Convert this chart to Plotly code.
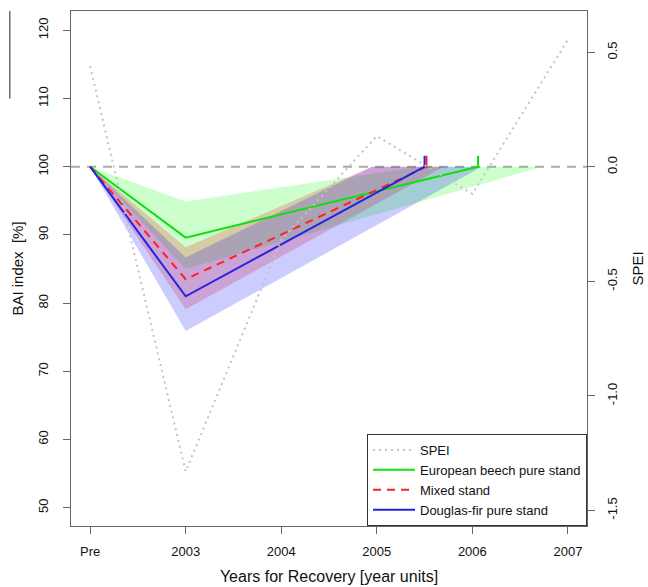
import plotly.graph_objects as go

# ---------------- data ----------------
x_labels = ["Pre", "2003", "2004", "2005", "2006", "2007"]
x_pos = [0, 1, 2, 3, 4, 5]

spei_values = [0.44, -1.33, -0.32, 0.135, -0.118, 0.555]

# BAI index: Pre value and 2003 (drought year) value, then recovery time (x units)
beech_mean = [100, 89.6]
beech_rec = 4.06
beech_upper = [100, 94.9]
beech_upper_rec = 3.45
beech_lower = [100, 85.0]
beech_lower_rec = 4.73

mixed_mean = [100, 83.5]
mixed_rec = 3.52
mixed_upper = [100, 88.2]
mixed_upper_rec = 2.95
mixed_lower = [100, 79.1]
mixed_lower_rec = 3.70

doug_mean = [100, 81.0]
doug_rec = 3.50
doug_upper = [100, 86.7]
doug_upper_rec = 2.95
doug_lower = [100, 75.9]
doug_lower_rec = 4.10

baseline = 100
y_ticks = [50, 60, 70, 80, 90, 100, 110, 120]
y2_ticks = [-1.5, -1.0, -0.5, 0.0, 0.5]
y2_ticklabels = ["-1.5", "-1.0", "-0.5", "0.0", "0.5"]

# ---------------- styles ----------------
FONT = "Liberation Sans, Arial, sans-serif"
AX = "#666666"
TICK_H = 1.6
GREEN = "#11DD11"
RED = "#FF2020"
BLUE = "#2424E0"

fig = go.Figure()

# SPEI (secondary axis)
fig.add_trace(go.Scatter(
    x=x_pos, y=spei_values, yaxis="y2", mode="lines", name="SPEI",
    line=dict(color="#C4C4C4", width=2, dash="2px,4px"), showlegend=True))


def band(up, up_rec, lo, lo_rec, color):
    xs = [x_pos[0], x_pos[1], up_rec, lo_rec, x_pos[1], x_pos[0]]
    ys = [up[0], up[1], baseline, baseline, lo[1], lo[0]]
    fig.add_trace(go.Scatter(x=xs, y=ys, mode="lines", fill="toself",
                             fillcolor=color, line=dict(width=0),
                             showlegend=False, hoverinfo="skip"))


band(beech_upper, beech_upper_rec, beech_lower, beech_lower_rec,
     "rgba(0,255,0,0.2)")
band(mixed_upper, mixed_upper_rec, mixed_lower, mixed_lower_rec,
     "rgba(255,0,0,0.2)")
band(doug_upper, doug_upper_rec, doug_lower, doug_lower_rec,
     "rgba(0,0,255,0.2)")

series = [
    ("European beech pure stand", beech_mean, beech_rec, GREEN, "solid"),
    ("Mixed stand", mixed_mean, mixed_rec, RED, "8px,6px"),
    ("Douglas-fir pure stand", doug_mean, doug_rec, BLUE, "solid"),
]
for name, m, rec, col, dash in series:
    fig.add_trace(go.Scatter(
        x=[x_pos[0], x_pos[1], rec], y=[m[0], m[1], baseline],
        mode="lines", name=name, line=dict(color=col, width=2, dash=dash)))
for name, m, rec, col, dash in series:
    fig.add_trace(go.Scatter(
        x=[rec, rec], y=[baseline, baseline + TICK_H], mode="lines",
        line=dict(color=col, width=2), showlegend=False, hoverinfo="skip"))

# dashed reference line at 100
fig.add_shape(type="line", xref="paper", x0=0, x1=1, yref="y", y0=baseline,
              y1=baseline, line=dict(color="#AAAAAA", width=2, dash="9px,7px"),
              layer="below")

# small artifact line at the left edge of the picture
fig.add_shape(type="line", xref="paper", yref="paper",
              x0=-0.1185, x1=-0.1185, y0=1.0, y1=0.83,
              line=dict(color="#222222", width=1))

fig.update_layout(
    width=648, height=587,
    margin=dict(l=71, r=61, t=11, b=61, autoexpand=False),
    paper_bgcolor="white", plot_bgcolor="white",
    font=dict(family=FONT, size=13, color="#111111"),
    xaxis=dict(
        range=[-0.2, 5.2], tickvals=x_pos, ticktext=x_labels,
        showline=True, linecolor=AX, linewidth=1, mirror=True,
        ticks="outside", ticklen=7, tickcolor=AX, showgrid=False,
        zeroline=False, ticklabelstandoff=6, automargin=False,
        title=dict(text="Years for Recovery [year units]",
                   font=dict(size=16), standoff=13),
    ),
    yaxis=dict(
        range=[47.32, 122.83], tickvals=y_ticks, tickangle=-90,
        showline=True, linecolor=AX, linewidth=1, mirror=True,
        ticks="outside", ticklen=7, tickcolor=AX, showgrid=False,
        zeroline=False, ticklabelstandoff=10, automargin=False,
        title=dict(text="BAI index  [%]", font=dict(size=15), standoff=8),
    ),
    yaxis2=dict(
        range=[-1.568, 0.681], overlaying="y", side="right",
        tickvals=y2_ticks, ticktext=y2_ticklabels, tickangle=-90,
        ticks="outside", ticklen=7, tickcolor=AX, showgrid=False,
        zeroline=False, showline=False, ticklabelstandoff=6, automargin=False,
        title=dict(text="SPEI", font=dict(size=15), standoff=13),
    ),
    legend=dict(
        x=1, y=0, xanchor="right", yanchor="bottom",
        bordercolor="#333333", borderwidth=1, bgcolor="white",
        font=dict(size=13), tracegroupgap=0, itemwidth=42,
    ),
)

fig.write_html("out.html")
